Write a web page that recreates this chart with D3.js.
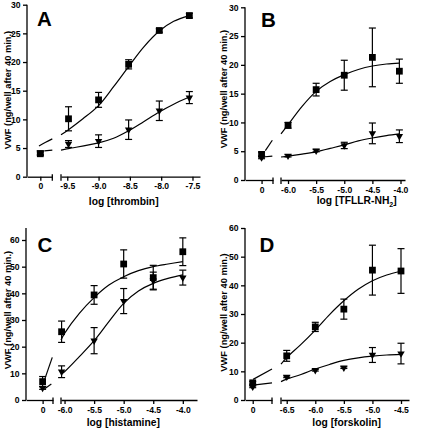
<!DOCTYPE html>
<html><head><meta charset="utf-8">
<script src="https://cdn.jsdelivr.net/npm/d3@7"></script>
<style>
body{margin:0;background:#fff}
svg text{font-family:Arial,"Liberation Sans",sans-serif;font-weight:bold;fill:#000}
</style>
</head><body>
<svg id="chart" width="421" height="430"></svg>
<script>
// ---------------- DATA ----------------
const letters = ["A", "B", "C", "D"];
const yTitle = "VWF (ng/well after 40 min.)";
const xAgents = ["thrombin", "TFLLR-NH", "histamine", "forskolin"];

// Panel A (thrombin)
const aX = [-9.48, -9.0, -8.52, -8.03, -7.55];
const aSq = [10.1, 13.4, 19.6, 25.5, 28.1];
const aSqErr = [2.1, 1.3, 0.8, 0.3, 0.4];
const aTri = [5.7, 6.2, 8.2, 11.5, 13.8];
const aTriErr = [0.6, 1.1, 1.7, 1.7, 1.05];
const aCtrl = [4.0, 4.2];       // square, triangle at 0
const aCtrlErr = [0.3, 0.3];
const aSqCurve = [[-9.6, 7.3], [-9.48, 8.2], [-9.25, 10.1], [-9.0, 12.4], [-8.76, 15.7], [-8.52, 19.2], [-8.28, 22.6], [-8.03, 25.4], [-7.8, 27.1], [-7.55, 28.1]];
const aTriCurve = [[-9.6, 4.65], [-9.48, 4.9], [-9.0, 5.9], [-8.76, 6.7], [-8.52, 8.0], [-8.28, 9.6], [-8.03, 11.3], [-7.8, 12.65], [-7.55, 13.9]];
const aSqStub = [[-0.1, 5.35], [0.4, 6.0], [0.9, 6.6]];
const aTriStub = [[0.3, 4.5], [0.9, 4.65]];
const aTicks = [-9.5, -9.0, -8.5, -8.0, -7.5];
const aTickLabels = ["-9.5", "-9.0", "-8.5", "-8.0", "-7.5"];
const aYTicks = [0, 5, 10, 15, 20, 25, 30];

// Panel B (TFLLR-NH2)
const bX = [-6.0, -5.5, -5.0, -4.5, -4.02];
const bSq = [9.5, 15.7, 18.2, 21.3, 18.9];
const bSqErr = [0.5, 1.1, 2.6, 5.1, 2.1];
const bTri = [4.2, 5.1, 6.0, 8.1, 7.6];
const bTriErr = [0.2, 0.2, 0.55, 1.8, 1.1];
const bCtrl = [4.45, 3.9];
const bCtrlErr = [0.4, 0.2];
const bSqCurve = [[-6.125, 8.0], [-6.0, 9.6], [-5.75, 12.8], [-5.5, 15.4], [-5.25, 17.1], [-5.0, 18.3], [-4.75, 19.2], [-4.5, 19.8], [-4.25, 20.15], [-4.02, 20.3]];
const bTriCurve = [[-6.125, 4.0], [-6.0, 4.15], [-5.75, 4.5], [-5.5, 4.9], [-5.25, 5.5], [-5.0, 6.1], [-4.75, 6.8], [-4.5, 7.3], [-4.25, 7.7], [-4.02, 8.0]];
const bSqStub = [[0.33, 5.1], [0.94, 6.9]];
const bTriStub = [[0.1, 4.0], [0.94, 4.15]];
const bTicks = [-6.0, -5.5, -5.0, -4.5, -4.0];
const bTickLabels = ["-6.0", "-5.5", "-5.0", "-4.5", "-4.0"];
const bYTicks = [0, 5, 10, 15, 20, 25, 30];

// Panel C (histamine)
const cX = [-6.05, -5.5, -5.0, -4.5, -4.0];
const cSq = [25.6, 39.4, 51.0, 45.9, 55.6];
const cSqErr = [4.0, 3.5, 5.3, 4.6, 5.2];
const cTri = [10.6, 22.25, 37.1, 44.75, 45.9];
const cTriErr = [2.2, 4.9, 4.7, 3.2, 2.8];
const cCtrl = [6.9, 4.5];
const cCtrlErr = [1.9, 0.5];
const cSqCurve = [[-6.06, 22.5], [-6.0, 25.0], [-5.75, 32.5], [-5.5, 38.4], [-5.25, 43.1], [-5.0, 46.25], [-4.75, 48.5], [-4.5, 50.0], [-4.25, 51.0], [-4.0, 51.9]];
const cTriCurve = [[-6.06, 9.6], [-6.0, 10.6], [-5.75, 16.25], [-5.5, 22.25], [-5.25, 29.4], [-5.0, 36.25], [-4.75, 40.9], [-4.5, 43.75], [-4.25, 45.6], [-4.0, 46.9]];
const cSqStub = [[0.2, 7.75], [0.93, 16.0]];
const cTriStub = [[0.2, 4.2], [0.84, 6.0]];
const cTicks = [-6.0, -5.5, -5.0, -4.5, -4.0];
const cTickLabels = ["-6.0", "-5.5", "-5.0", "-4.5", "-4.0"];
const cYTicks = [0, 10, 20, 30, 40, 50, 60];

// Panel D (forskolin)
const dX = [-6.5, -6.0, -5.5, -5.0, -4.5];
const dSq = [15.4, 25.5, 31.7, 45.3, 45.0];
const dSqErr = [1.9, 1.6, 3.5, 8.7, 7.8];
const dTri = [8.1, 10.4, 11.3, 15.7, 16.2];
const dTriErr = [0.3, 0.3, 0.3, 2.6, 3.6];
const dCtrl = [6.0, 4.6];
const dCtrlErr = [0.5, 0.3];
const dSqCurve = [[-6.6, 12.5], [-6.5, 14.8], [-6.25, 19.4], [-6.0, 24.4], [-5.75, 29.8], [-5.5, 34.6], [-5.25, 38.6], [-5.0, 41.6], [-4.75, 43.6], [-4.5, 44.9]];
const dTriCurve = [[-6.6, 6.4], [-6.5, 7.3], [-6.25, 8.9], [-6.0, 10.8], [-5.75, 12.4], [-5.5, 13.8], [-5.25, 14.7], [-5.0, 15.3], [-4.75, 15.7], [-4.5, 15.9]];
const dSqStub = [[0.02, 7.2], [1.0, 10.8]];
const dTriStub = [[0.02, 5.2], [1.0, 6.0]];
const dTicks = [-6.5, -6.0, -5.5, -5.0, -4.5];
const dTickLabels = ["-6.5", "-6.0", "-5.5", "-5.0", "-4.5"];
const dYTicks = [0, 10, 20, 30, 40, 50, 60];

// ---------------- LAYOUT ----------------
const panels = [
  {letter: letters[0], agent: xAgents[0], sub: null,
   x: aX, sq: aSq, sqE: aSqErr, tri: aTri, triE: aTriErr, ctrl: aCtrl, ctrlE: aCtrlErr,
   sqC: aSqCurve, triC: aTriCurve, sqS: aSqStub, triS: aTriStub,
   ticks: aTicks, tickLabels: aTickLabels, yTicks: aYTicks,
   yDom: [0, 30], yRange: [176.7, 4.7],
   s0Dom: [-1, 0.9], s0Range: [27, 52.3], s1Dom: [-9.6, -7.38], s1Range: [61, 200],
   letterPos: [37, 25.5], yTitlePos: [7.5, 90], xTitlePos: [123.7, 205]},
  {letter: letters[1], agent: xAgents[1], sub: "2",
   x: bX, sq: bSq, sqE: bSqErr, tri: bTri, triE: bTriErr, ctrl: bCtrl, ctrlE: bCtrlErr,
   sqC: bSqCurve, triC: bTriCurve, sqS: bSqStub, triS: bTriStub,
   ticks: bTicks, tickLabels: bTickLabels, yTicks: bYTicks,
   yDom: [0, 30], yRange: [180, 7.3],
   s0Dom: [-1.45, 1], s0Range: [245, 273], s1Dom: [-6.125, -3.92], s1Range: [281, 405],
   letterPos: [261, 27], yTitlePos: [224, 89], xTitlePos: [356.7, 204]},
  {letter: letters[2], agent: xAgents[2], sub: null,
   x: cX, sq: cSq, sqE: cSqErr, tri: cTri, triE: cTriErr, ctrl: cCtrl, ctrlE: cCtrlErr,
   sqC: cSqCurve, triC: cTriCurve, sqS: cSqStub, triS: cTriStub,
   ticks: cTicks, tickLabels: cTickLabels, yTicks: cYTicks,
   yDom: [0, 64.5], yRange: [400, 228],
   s0Dom: [-1.6, 1], s0Range: [26, 53], s1Dom: [-6.06, -3.76], s1Range: [61, 197],
   letterPos: [37.5, 252], yTitlePos: [7.3, 310], xTitlePos: [123.3, 426]},
  {letter: letters[3], agent: xAgents[3], sub: null,
   x: dX, sq: dSq, sqE: dSqErr, tri: dTri, triE: dTriErr, ctrl: dCtrl, ctrlE: dCtrlErr,
   sqC: dSqCurve, triC: dTriCurve, sqS: dSqStub, triS: dTriStub,
   ticks: dTicks, tickLabels: dTickLabels, yTicks: dYTicks,
   yDom: [0, 60], yRange: [400, 228],
   s0Dom: [-0.4, 1], s0Range: [245, 272], s1Dom: [-6.6, -4.36], s1Range: [281, 409],
   letterPos: [259.5, 252], yTitlePos: [223.3, 312.5], xTitlePos: [346.7, 426]}
];

const svg = d3.select("#chart");
const LW = 1.3;
const squareSym = d3.symbol().type(d3.symbolSquare).size(46);
const triSym = d3.symbol().type(d3.symbolTriangle).size(24);

function styleAxis(g) {
  g.selectAll("path.domain").attr("stroke", "#000").attr("stroke-width", LW);
  g.selectAll(".tick line").attr("stroke", "#000").attr("stroke-width", LW);
  g.selectAll(".tick text").attr("font-size", 8.6).attr("font-weight", "bold")
    .attr("font-family", "Arial, 'Liberation Sans', sans-serif").attr("fill", "#000");
}

panels.forEach(p => {
  const y = d3.scaleLinear().domain(p.yDom).range(p.yRange);
  const x0 = d3.scaleLinear().domain(p.s0Dom).range(p.s0Range);
  const x1 = d3.scaleLinear().domain(p.s1Dom).range(p.s1Range);
  const y0px = y(0);
  const g = svg.append("g");

  // y axis
  const ya = g.append("g").attr("transform", `translate(${p.s0Range[0]},0)`)
    .call(d3.axisLeft(y).tickValues(p.yTicks).tickSize(4).tickPadding(2.5).tickSizeOuter(0).tickFormat(d3.format("d")));
  styleAxis(ya);
  ya.select("path.domain").attr("d", `M0,${y0px}V${p.yRange[1]}`);

  // x axis segment 0
  const xa0 = g.append("g").attr("transform", `translate(0,${y0px})`)
    .call(d3.axisBottom(x0).tickValues([0]).tickSize(4).tickPadding(2.5).tickSizeOuter(0).tickFormat(() => "0"));
  styleAxis(xa0);
  // x axis segment 1
  const xa1 = g.append("g").attr("transform", `translate(0,${y0px})`)
    .call(d3.axisBottom(x1).tickValues(p.ticks).tickSize(4).tickPadding(2.5).tickSizeOuter(0)
      .tickFormat((d, i) => p.tickLabels[i]));
  styleAxis(xa1);

  // break marks
  [x0.range()[1], x1.range()[0]].forEach(bx => {
    g.append("line").attr("x1", bx).attr("x2", bx).attr("y1", y0px - 2.5).attr("y2", y0px + 4)
      .attr("stroke", "#000").attr("stroke-width", LW);
  });

  // curves
  const line1 = d3.line().x(d => x1(d[0])).y(d => y(d[1])).curve(d3.curveCatmullRom.alpha(0.5));
  const line0 = d3.line().x(d => x0(d[0])).y(d => y(d[1])).curve(d3.curveCatmullRom.alpha(0.5));
  [p.sqC, p.triC].forEach(c => g.append("path").attr("d", line1(c)).attr("fill", "none")
    .attr("stroke", "#000").attr("stroke-width", 1.2));
  [p.sqS, p.triS].forEach(c => g.append("path").attr("d", line0(c)).attr("fill", "none")
    .attr("stroke", "#000").attr("stroke-width", 1.2));

  // error bars
  function errBars(xs, vals, errs, xs_scale) {
    vals.forEach((v, i) => {
      const cx = xs_scale(xs[i]);
      const top = y(v + errs[i]), bot = y(v - errs[i]);
      g.append("line").attr("x1", cx).attr("x2", cx).attr("y1", top).attr("y2", bot)
        .attr("stroke", "#000").attr("stroke-width", 1.2);
      [top, bot].forEach(yy => g.append("line").attr("x1", cx - 3.5).attr("x2", cx + 3.5)
        .attr("y1", yy).attr("y2", yy).attr("stroke", "#000").attr("stroke-width", 1.2));
    });
  }
  errBars(p.x, p.sq, p.sqE, x1);
  errBars(p.x, p.tri, p.triE, x1);
  errBars([0, 0], p.ctrl, p.ctrlE, x0);

  // symbols
  p.tri.forEach((v, i) => g.append("path").attr("d", triSym())
    .attr("transform", `translate(${x1(p.x[i])},${y(v)}) rotate(180)`).attr("fill", "#000"));
  p.sq.forEach((v, i) => g.append("path").attr("d", squareSym())
    .attr("transform", `translate(${x1(p.x[i])},${y(v)})`).attr("fill", "#000"));
  g.append("path").attr("d", triSym())
    .attr("transform", `translate(${x0(0)},${y(p.ctrl[1])}) rotate(180)`).attr("fill", "#000");
  g.append("path").attr("d", squareSym())
    .attr("transform", `translate(${x0(0)},${y(p.ctrl[0])})`).attr("fill", "#000");

  // panel letter
  g.append("text").attr("x", p.letterPos[0]).attr("y", p.letterPos[1])
    .attr("font-size", 20.5).text(p.letter);

  // y title
  g.append("text").attr("transform", `translate(${p.yTitlePos[0]},${p.yTitlePos[1]}) rotate(-90)`)
    .attr("text-anchor", "middle").attr("dy", "0.35em").attr("font-size", 9.3).text(yTitle);

  // x title
  const xt = g.append("text").attr("x", p.xTitlePos[0]).attr("y", p.xTitlePos[1])
    .attr("text-anchor", "middle").attr("font-size", 10.3);
  xt.append("tspan").text("log [" + p.agent);
  if (p.sub) xt.append("tspan").attr("font-size", 7).attr("dy", 2.5).text(p.sub);
  xt.append("tspan").attr("dy", p.sub ? -2.5 : 0).text("]");
});
</script>
</body></html>
